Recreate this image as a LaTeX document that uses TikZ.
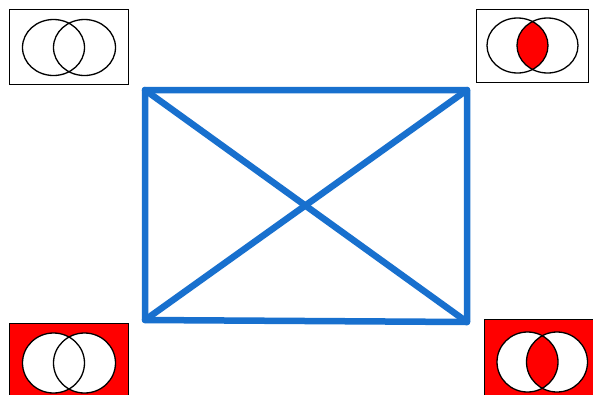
\documentclass[tikz,border=0pt]{standalone}
\definecolor{xblue}{RGB}{24,112,206}
\definecolor{vred}{RGB}{255,0,0}
\tikzset{
  vbox/.style={draw=black, line width=0.9pt, inner sep=0pt, outer sep=0pt},
  vring/.style={draw=black, line width=1.3pt},
  frameline/.style={draw=xblue, line width=6.5pt, line cap=round, line join=round},
}
\begin{document}
\begin{tikzpicture}[x=1pt,y=-1pt]
\useasboundingbox (0,0) rectangle (593,394);
\fill[white] (0,0) rectangle (593,394);

% top-left: empty Venn
\node[vbox, fill=white, minimum width=119pt, minimum height=75pt] (tl) at (68.5,46.5) {};
\draw[vring] (53.5,47.5) ellipse [x radius=31, y radius=28];
\draw[vring] (84.5,47.5) ellipse [x radius=31, y radius=28];

% top-right: intersection shaded
\node[vbox, fill=white, minimum width=112pt, minimum height=73pt] (tr) at (532,45.5) {};
\begin{scope}
  \clip (517.5,45.5) ellipse [x radius=30.5, y radius=27.5];
  \fill[vred] (547.5,45.5) ellipse [x radius=30.5, y radius=27.5];
\end{scope}
\draw[vring] (517.5,45.5) ellipse [x radius=30.5, y radius=27.5];
\draw[vring] (547.5,45.5) ellipse [x radius=30.5, y radius=27.5];

% bottom-left: outside shaded
\node[vbox, fill=vred, minimum width=119pt, minimum height=77pt] (bl) at (68.5,361.5) {};
\fill[white] (53.5,363) ellipse [x radius=31, y radius=30];
\fill[white] (84.5,363) ellipse [x radius=31, y radius=30];
\draw[vring] (53.5,363) ellipse [x radius=31, y radius=30];
\draw[vring] (84.5,363) ellipse [x radius=31, y radius=30];

% bottom-right: outside and intersection shaded
\node[vbox, fill=vred, minimum width=116pt, minimum height=81pt] (br) at (542,359.5) {};
\fill[white] (527.5,362) ellipse [x radius=30.5, y radius=30];
\fill[white] (557,362) ellipse [x radius=30.5, y radius=30];
\begin{scope}
  \clip (527.5,362) ellipse [x radius=30.5, y radius=30];
  \fill[vred] (557,362) ellipse [x radius=30.5, y radius=30];
\end{scope}
\draw[vring] (527.5,362) ellipse [x radius=30.5, y radius=30];
\draw[vring] (557,362) ellipse [x radius=30.5, y radius=30];

% central square of opposition frame
\coordinate (A) at (145,90);
\coordinate (B) at (467,90);
\coordinate (C) at (467,322);
\coordinate (D) at (145,320);
\draw[frameline] (A) -- (B) -- (C) -- (D) -- cycle;
\draw[frameline] (A) -- (C);
\draw[frameline] (B) -- (D);
\end{tikzpicture}
\end{document}
